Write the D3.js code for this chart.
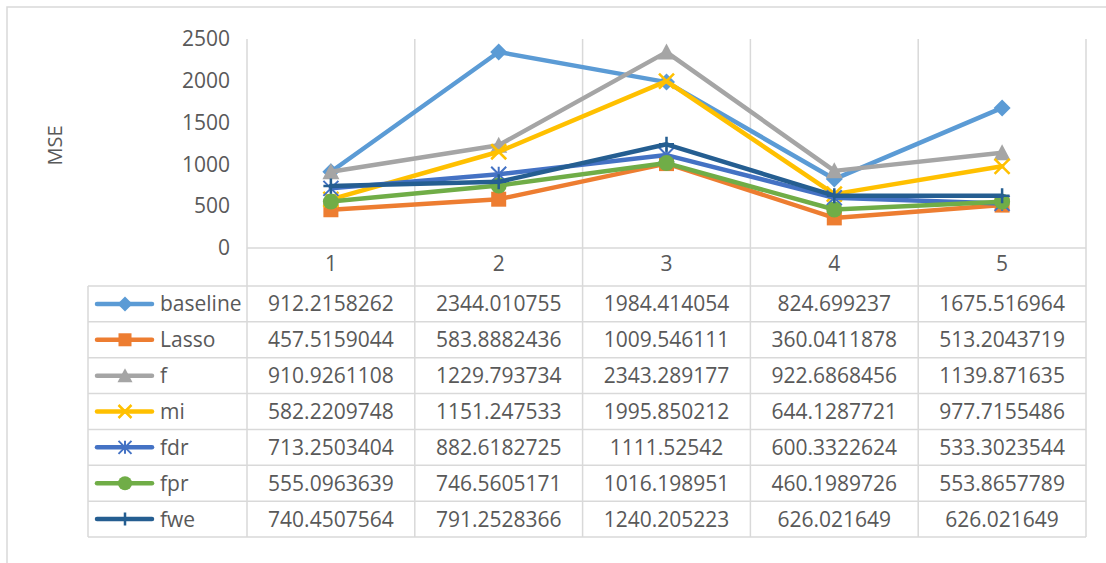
<!DOCTYPE html>
<html>
<head>
<meta charset="utf-8">
<script src="https://cdn.jsdelivr.net/npm/d3@7"></script>
<style>
  html, body { margin: 0; padding: 0; background: #fff; }
  svg { display: block; }
  text { font-family: "Open Sans", "Liberation Sans", sans-serif; fill: #595959; }
</style>
</head>
<body>
<svg id="chart" width="1106" height="563"></svg>
<script>
// Categories (runs) and MSE per method
const categories = ["1", "2", "3", "4", "5"];
const seriesNames = ["baseline", "Lasso", "f", "mi", "fdr", "fpr", "fwe"];
const baseline = [912.2158262, 2344.010755, 1984.414054, 824.699237, 1675.516964];
const lasso    = [457.5159044, 583.8882436, 1009.546111, 360.0411878, 513.2043719];
const fScore   = [910.9261108, 1229.793734, 2343.289177, 922.6868456, 1139.871635];
const mi       = [582.2209748, 1151.247533, 1995.850212, 644.1287721, 977.7155486];
const fdr      = [713.2503404, 882.6182725, 1111.52542, 600.3322624, 533.3023544];
const fpr      = [555.0963639, 746.5605171, 1016.198951, 460.1989726, 553.8657789];
const fwe      = [740.4507564, 791.2528366, 1240.205223, 626.021649, 626.021649];
// Printed table text for each series
const baselineText = ["912.2158262", "2344.010755", "1984.414054", "824.699237", "1675.516964"];
const lassoText    = ["457.5159044", "583.8882436", "1009.546111", "360.0411878", "513.2043719"];
const fText        = ["910.9261108", "1229.793734", "2343.289177", "922.6868456", "1139.871635"];
const miText       = ["582.2209748", "1151.247533", "1995.850212", "644.1287721", "977.7155486"];
const fdrText      = ["713.2503404", "882.6182725", "1111.52542", "600.3322624", "533.3023544"];
const fprText      = ["555.0963639", "746.5605171", "1016.198951", "460.1989726", "553.8657789"];
const fweText      = ["740.4507564", "791.2528366", "1240.205223", "626.021649", "626.021649"];
const yTicks = [0, 500, 1000, 1500, 2000, 2500];
const yLabel = "MSE";

const colors  = ["#5B9BD5", "#ED7D31", "#A5A5A5", "#FFC000", "#4472C4", "#70AD47", "#255E91"];
const markers = ["diamond", "square", "triangle", "x", "star", "circle", "plus"];

const series = seriesNames.map((name, i) => ({
  name,
  values: [baseline, lasso, fScore, mi, fdr, fpr, fwe][i],
  texts: [baselineText, lassoText, fText, miText, fdrText, fprText, fweText][i],
  color: colors[i],
  marker: markers[i]
}));

const svg = d3.select("#chart");
const grid = "#d9d9d9";
const fs = "21px";

// Layout
const plotL = 247, plotR = 1086, axisY = 248, plotTop = 39;
const tableL = 88, tableTop = 286, tableBottom = 537;

const x = d3.scaleBand().domain(categories).range([plotL, plotR]).padding(0);
const cx = c => x(c) + x.bandwidth() / 2;
const y = d3.scaleLinear().domain([0, 2500]).range([axisY, plotTop]);
const row = d3.scaleBand().domain(seriesNames).range([tableTop, tableBottom]);

// Outer chart frame
svg.append("path").attr("d", "M7,563V7H1106")
  .attr("fill", "none").attr("stroke", grid).attr("stroke-width", 1.5);

// Vertical gridlines at category boundaries, through the table
const edges = categories.map(c => x(c)).concat([plotR]);
svg.append("g").selectAll("line").data(edges).join("line")
  .attr("x1", d => d).attr("x2", d => d)
  .attr("y1", plotTop).attr("y2", tableBottom)
  .attr("stroke", grid).attr("stroke-width", 1.5);

// Category axis line
svg.append("line").attr("x1", plotL).attr("x2", plotR)
  .attr("y1", axisY).attr("y2", axisY)
  .attr("stroke", grid).attr("stroke-width", 1.5);

// Table horizontal rules
const rowEdges = seriesNames.map(n => row(n)).concat([tableBottom]);
svg.append("g").selectAll("line").data(rowEdges).join("line")
  .attr("x1", tableL).attr("x2", plotR)
  .attr("y1", d => d).attr("y2", d => d)
  .attr("stroke", grid).attr("stroke-width", 1.5);
svg.append("line").attr("x1", tableL).attr("x2", tableL)
  .attr("y1", tableTop).attr("y2", tableBottom)
  .attr("stroke", grid).attr("stroke-width", 1.5);

// Y axis (labels only)
const yAxis = d3.axisLeft(y).tickValues(yTicks).tickFormat(d3.format("d")).tickSize(0).tickPadding(17);
const yg = svg.append("g").attr("transform", `translate(${plotL},0)`).call(yAxis);
yg.select(".domain").remove();
yg.selectAll("text").style("font-size", fs).attr("fill", "#595959");

svg.append("text")
  .attr("transform", `translate(62,${(plotTop + axisY) / 2 + 2}) rotate(-90)`)
  .attr("text-anchor", "middle").style("font-size", "20px").text(yLabel);

// Category labels
const xAxis = d3.axisBottom(x).tickSize(0).tickPadding(8);
const xg = svg.append("g").attr("transform", `translate(0,${axisY})`).call(xAxis);
xg.select(".domain").remove();
xg.selectAll("text").style("font-size", fs).attr("fill", "#595959");

// Marker shapes
function drawMarker(g, type, color, s) {
  const h = s / 2;
  switch (type) {
    case "diamond":
      g.append("path").attr("d", `M0,${-h - 1}L${h + 1},0L0,${h + 1}L${-h - 1},0Z`).attr("fill", color);
      break;
    case "square":
      g.append("rect").attr("x", -h).attr("y", -h).attr("width", s).attr("height", s).attr("fill", color);
      break;
    case "triangle":
      g.append("path").attr("d", `M0,${-h - 1}L${h + 1},${h}L${-h - 1},${h}Z`).attr("fill", color);
      break;
    case "circle":
      g.append("circle").attr("r", h + 0.5).attr("fill", color);
      break;
    case "x":
      g.append("path").attr("d", `M${-h},${-h}L${h},${h}M${h},${-h}L${-h},${h}`)
        .attr("stroke", color).attr("stroke-width", 2.5).attr("fill", "none");
      break;
    case "star":
      g.append("path").attr("d", `M${-h},${-h}L${h},${h}M${h},${-h}L${-h},${h}M0,${-h}V${h}`)
        .attr("stroke", color).attr("stroke-width", 2).attr("fill", "none");
      break;
    case "plus":
      g.append("path").attr("d", `M0,${-h}V${h}M${-h},0H${h}`)
        .attr("stroke", color).attr("stroke-width", 2.5).attr("fill", "none");
      break;
  }
}

// Lines and markers
const line = d3.line().x((d, i) => cx(categories[i])).y(d => y(d));
series.forEach(s => {
  const g = svg.append("g");
  g.append("path").datum(s.values).attr("d", line)
    .attr("fill", "none").attr("stroke", s.color).attr("stroke-width", 4.5)
    .attr("stroke-linejoin", "round").attr("stroke-linecap", "round");
  s.values.forEach((v, i) => {
    const mg = g.append("g").attr("transform", `translate(${cx(categories[i])},${y(v)})`);
    drawMarker(mg, s.marker, s.color, 15);
  });
});

// Data table: legend keys and values
series.forEach(s => {
  const ry = row(s.name) + row.bandwidth() / 2;
  const lg = svg.append("g");
  lg.append("line").attr("x1", 97).attr("x2", 152).attr("y1", ry).attr("y2", ry)
    .attr("stroke", s.color).attr("stroke-width", 4.5).attr("stroke-linecap", "round");
  const mg = lg.append("g").attr("transform", `translate(125,${ry})`);
  drawMarker(mg, s.marker, s.color, 13);
  lg.append("text").attr("x", 160).attr("y", ry).attr("dy", "0.36em")
    .style("font-size", fs).text(s.name);
  svg.append("g").selectAll("text").data(s.texts).join("text")
    .attr("x", (d, i) => cx(categories[i])).attr("y", ry).attr("dy", "0.36em")
    .attr("text-anchor", "middle").style("font-size", fs).text(d => d);
});
</script>
</body>
</html>
